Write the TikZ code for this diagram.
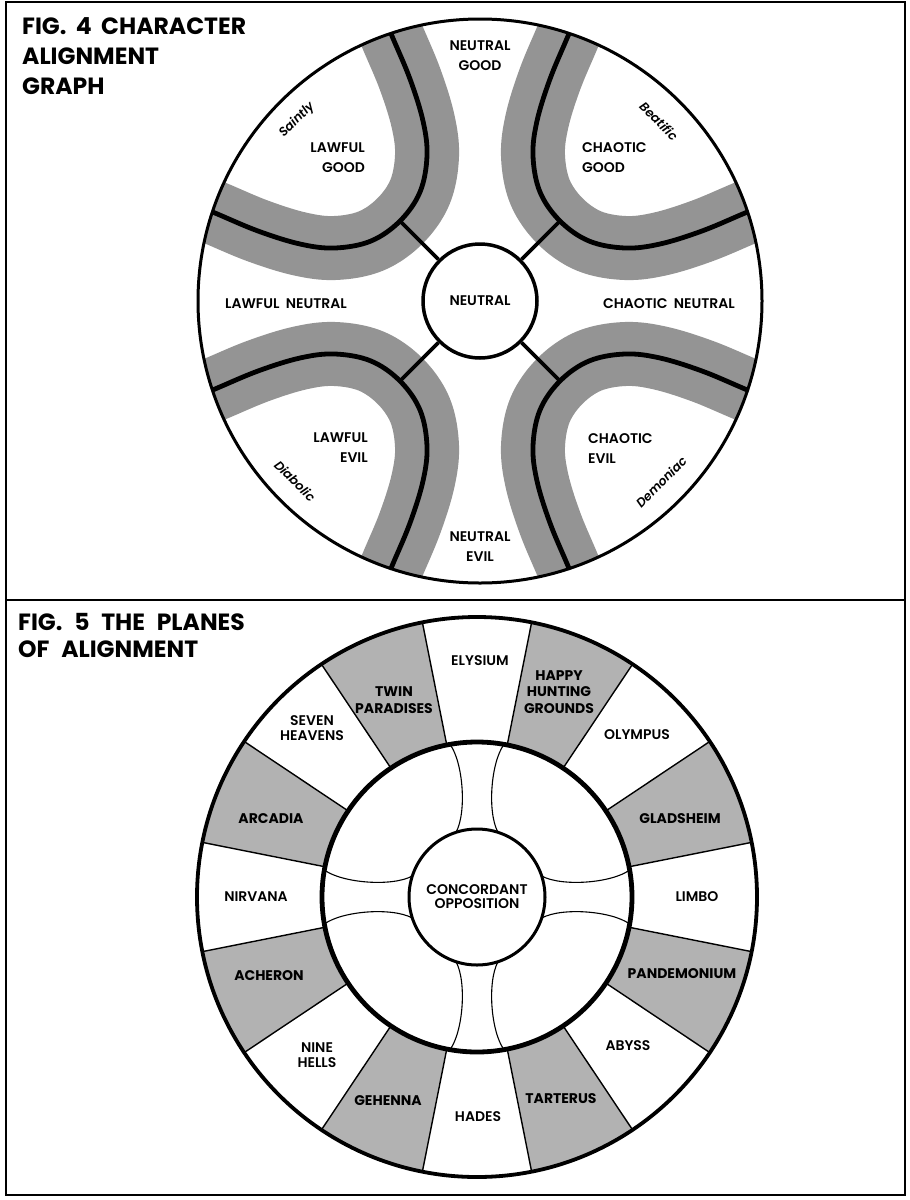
\documentclass[tikz,border=0pt]{standalone}
\usepackage{fontspec}
\setmainfont{Poppins}
\newfontfamily\labfont{Poppins SemiBold}
\newfontfamily\boldlab{Poppins Bold}
\newfontfamily\titfont{Poppins Bold}
\begin{document}
\begin{tikzpicture}[x=1pt,y=-1pt,
  lab/.style={font=\labfont\fontsize{14}{20}\selectfont, inner sep=0pt, align=center},
  labw/.style={font=\labfont\fontsize{14}{14.5}\selectfont, inner sep=0pt, align=center},
  labs/.style={font=\boldlab\fontsize{14}{16.5}\selectfont, inner sep=0pt, align=center},
  ital/.style={font=\labfont\itshape\fontsize{12.5}{14}\selectfont, inner sep=0pt},
  figtitle/.style={font=\titfont\fontsize{23.5}{30}\selectfont, inner sep=0pt, align=left, anchor=north west},
  band/.style={line width=64pt, draw=black!42, line cap=butt, line join=round},
  ridge/.style={line width=4.8pt, draw=black, line join=round},
  spoke/.style={line width=3.6pt},
  wedge/.style={fill=black!30},
  wline/.style={line width=1.4pt},
  thincurve/.style={line width=1.1pt},
  frame/.style={line width=2pt}
]
\useasboundingbox (0,0) rectangle (910,1200);
\fill[white] (0,0) rectangle (910,1200);

% frame
\draw[frame] (6,2) rectangle (905,1195);
\draw[frame] (6,600) -- (905,600);

% ================= FIG 4 =================
\coordinate (c4) at (480,301);
\begin{scope}
  \clip (c4) circle[radius=282];
  \foreach \sx/\sy in {1/1,-1/1,1/-1,-1/-1}{
    \begin{scope}[shift={(c4)}, xscale=\sx, yscale=\sy]
      \draw[band] plot[smooth, tension=0.6] coordinates {(106,-308) (88,-265) (70,-222) (57,-180) (53,-145) (60,-109) (80,-80) (109,-60) (145,-53) (180,-57) (222,-70) (265,-88) (308,-106)};
    \end{scope}
  }
  \foreach \sx/\sy in {1/1,-1/1,1/-1,-1/-1}{
    \begin{scope}[shift={(c4)}, xscale=\sx, yscale=\sy]
      \draw[ridge] plot[smooth, tension=0.6] coordinates {(106,-308) (88,-265) (70,-222) (57,-180) (53,-145) (60,-109) (80,-80) (109,-60) (145,-53) (180,-57) (222,-70) (265,-88) (308,-106)};
    \end{scope}
  }
\end{scope}
\draw[line width=3pt] (c4) circle[radius=282];

\coordinate (jCG) at (560,221);
\coordinate (jLG) at (400,221);
\coordinate (jCE) at (560,381);
\coordinate (jLE) at (400,381);
\node[circle, draw, line width=3.5pt, minimum size=114pt, fill=white, font=\labfont\fontsize{14}{20}\selectfont, inner sep=0pt] (neutral) at (c4) {NEUTRAL};
\draw[spoke] (neutral) -- (jCG);
\draw[spoke] (neutral) -- (jLG);
\draw[spoke] (neutral) -- (jCE);
\draw[spoke] (neutral) -- (jLE);

\node[lab] (ng) at (480,55.5) {NEUTRAL\\GOOD};
\node[lab, align=right, anchor=east] (lg) at (365,157.5) {LAWFUL\\GOOD};
\node[lab, align=left, anchor=west] (cg) at (582,157.5) {CHAOTIC\\GOOD};
\node[lab, align=right, anchor=east] (le) at (368,447.5) {LAWFUL\\EVIL};
\node[lab, align=left, anchor=west] (ce) at (588,448.5) {CHAOTIC\\EVIL};
\node[lab] (ne) at (480,547) {NEUTRAL\\EVIL};
\node[lab] (ln) at (286,304) {LAWFUL\hspace{0.45em}NEUTRAL};
\node[lab] (cn) at (669,304) {CHAOTIC\hspace{0.45em}NEUTRAL};

\node[ital, rotate=45] (saintly) at (297,120) {Saintly};
\node[ital, rotate=-45] (beatific) at (659,121) {Beatific};
\node[ital, rotate=-45] (diabolic) at (295,481) {Diabolic};
\node[ital, rotate=45] (demoniac) at (661,482) {Demoniac};

\node[figtitle] (t4) at (22,17) {FIG.\hspace{0.4em}4\hspace{0.4em}CHARACTER\\ALIGNMENT\\GRAPH};

% ================= FIG 5 =================
\coordinate (c5) at (477,897);
\begin{scope}
  \clip (c5) circle[radius=280];
  \begin{scope}[shift={(c5)}]
    \foreach \k in {1,3,...,15}{
      \pgfmathsetmacro{\aa}{-90+22.5*\k-11.25}
      \pgfmathsetmacro{\ab}{-90+22.5*\k+11.25}
      \fill[wedge] (0,0) -- (\aa:330) -- (\ab:330) -- cycle;
    }
  \end{scope}
\end{scope}
\fill[white] (c5) circle[radius=155];
\begin{scope}[shift={(c5)}]
  \foreach \k in {0,...,15}{
    \pgfmathsetmacro{\aa}{-90+22.5*\k-11.25}
    \draw[wline] (\aa:155) -- (\aa:280);
  }
  \foreach \r in {0,90,180,270}{
    \begin{scope}[rotate=\r]
      \draw[thincurve] (-27,-152.6) .. controls (-14,-135) and (-10,-85) .. (-21,-64.7);
      \draw[thincurve] (27,-152.6) .. controls (14,-135) and (10,-85) .. (21,-64.7);
    \end{scope}
  }
\end{scope}
\draw[line width=3.8pt] (c5) circle[radius=280];
\draw[line width=4.8pt] (c5) circle[radius=155];
\node[circle, draw, line width=3pt, minimum size=136pt, fill=white, align=center, font=\labfont\fontsize{14}{14}\selectfont, inner sep=0pt] (concord) at (c5) {CONCORDANT\\OPPOSITION};

\node[labw] (elysium) at (480,661) {ELYSIUM};
\node[labs] (twin) at (394,700) {TWIN\\PARADISES};
\node[labs] (happy) at (559,692) {HAPPY\\HUNTING\\GROUNDS};
\node[labw] (seven) at (312,728) {SEVEN\\HEAVENS};
\node[labw] (olympus) at (637,735) {OLYMPUS};
\node[labs] (arcadia) at (271,819) {ARCADIA};
\node[labs] (gladsheim) at (680,819) {GLADSHEIM};
\node[labw] (nirvana) at (256,897) {NIRVANA};
\node[labw] (limbo) at (697,897) {LIMBO};
\node[labs] (acheron) at (269,976) {ACHERON};
\node[labs] (pandemonium) at (682,974) {PANDEMONIUM};
\node[labw] (nine) at (317,1055) {NINE\\HELLS};
\node[labw] (abyss) at (628,1046) {ABYSS};
\node[labs] (gehenna) at (388,1101) {GEHENNA};
\node[labw] (hades) at (478,1117) {HADES};
\node[labs] (tarterus) at (561,1099) {TARTERUS};

\node[figtitle, font=\titfont\fontsize{23.5}{27}\selectfont] (t5) at (18,613) {FIG.\hspace{0.5em}5\hspace{0.5em}THE\hspace{0.5em}PLANES\\OF\hspace{0.5em}ALIGNMENT};
\end{tikzpicture}
\end{document}
